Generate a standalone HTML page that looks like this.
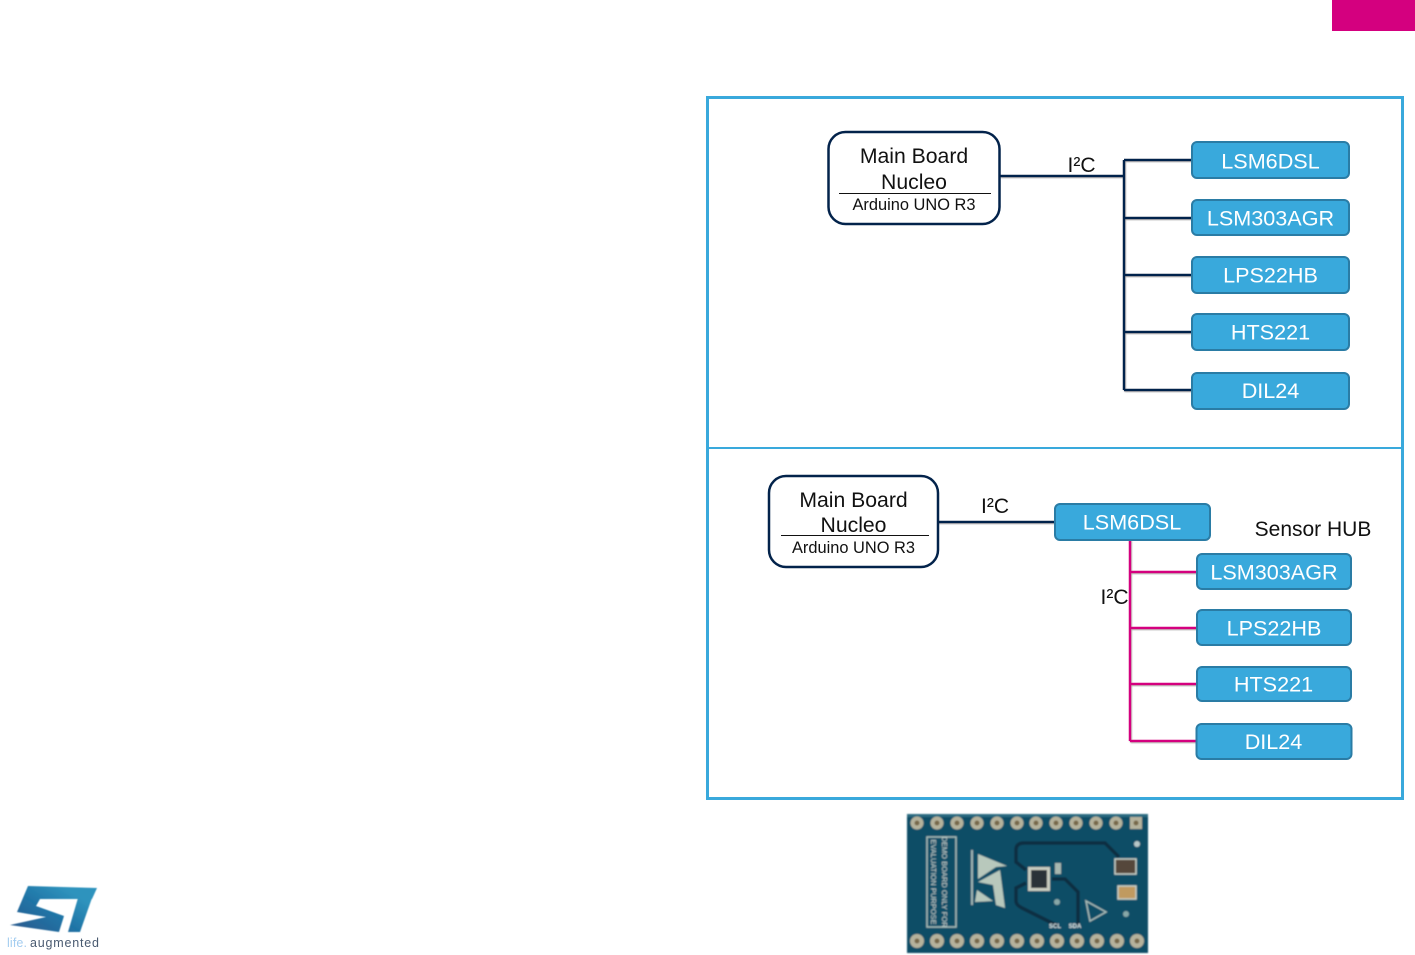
<!DOCTYPE html>
<html>
<head>
<meta charset="utf-8">
<style>
html,body{margin:0;padding:0;background:#fff;width:1415px;height:955px;overflow:hidden}
svg{display:block}
text{font-family:"Liberation Sans",sans-serif}
.b{fill:#39a9dc;stroke:#2a7ca5;stroke-width:2}
.w{fill:#fff;font-size:21.6px;text-anchor:middle}
.k{fill:#111;font-size:21.2px;text-anchor:middle}
.h{fill:#111;font-size:21px;text-anchor:middle}
.s{fill:#111;font-size:16.4px;text-anchor:middle}
.n{stroke:#03234b;stroke-width:2.5;fill:none}
.m{stroke:#d4007f;stroke-width:2.5;fill:none}
</style>
</head>
<body>
<svg width="1415" height="955" viewBox="0 0 1415 955" xmlns="http://www.w3.org/2000/svg">
<defs>
<filter id="bl" x="-5%" y="-5%" width="110%" height="110%"><feGaussianBlur stdDeviation="0.9"/></filter>
<filter id="bl2" x="-5%" y="-5%" width="110%" height="110%"><feGaussianBlur stdDeviation="0.6"/></filter>
<filter id="bl3" x="-5%" y="-20%" width="110%" height="140%"><feGaussianBlur stdDeviation="0.35"/></filter>
<filter id="sh" filterUnits="userSpaceOnUse" x="0" y="0" width="1415" height="955"><feDropShadow dx="0.8" dy="1" stdDeviation="0.6" flood-color="#777" flood-opacity="0.55"/></filter>
<linearGradient id="lg" gradientUnits="userSpaceOnUse" x1="60" y1="885" x2="30" y2="933"><stop offset="0" stop-color="#2f93bd"/><stop offset="0.5" stop-color="#1f74a6"/><stop offset="1" stop-color="#2a5f92"/></linearGradient>
</defs>
<rect x="1332" y="0" width="83" height="31" fill="#d4007f"/>
<rect x="707.5" y="97.5" width="695" height="701" fill="#fff" stroke="#39a9dc" stroke-width="3"/>
<line x1="708" y1="448" x2="1402" y2="448" stroke="#39a9dc" stroke-width="2"/>

<!-- Top diagram -->
<path class="n" filter="url(#sh)" d="M1000 176H1124M1124 160V390M1124 160H1193M1124 218H1193M1124 275H1193M1124 332H1193M1124 390H1193"/>
<rect x="828.5" y="132" width="171" height="92" rx="17" fill="#fff" stroke="#03234b" stroke-width="2.5"/>
<text class="k" x="914" y="163">Main Board</text>
<text class="k" x="914" y="189">Nucleo</text>
<line x1="839" y1="193.5" x2="991" y2="193.5" stroke="#111" stroke-width="1"/>
<text class="s" x="914" y="210">Arduino UNO R3</text>
<text class="h" x="1081.5" y="172">I²C</text>
<rect class="b" x="1192" y="142" width="157" height="36" rx="5"/><text class="w" x="1270.5" y="168.5">LSM6DSL</text>
<rect class="b" x="1192" y="200" width="157" height="35" rx="5"/><text class="w" x="1270.5" y="225.5">LSM303AGR</text>
<rect class="b" x="1192" y="257" width="157" height="36" rx="5"/><text class="w" x="1270.5" y="282.5">LPS22HB</text>
<rect class="b" x="1192" y="314" width="157" height="36" rx="5"/><text class="w" x="1270.5" y="339.5">HTS221</text>
<rect class="b" x="1192" y="373" width="157" height="36" rx="5"/><text class="w" x="1270.5" y="398">DIL24</text>

<!-- Bottom diagram -->
<path class="n" filter="url(#sh)" d="M938 522H1056"/>
<path class="m" filter="url(#sh)" d="M1130 540V741M1130 572H1198M1130 628H1198M1130 684H1198M1130 741H1198"/>
<rect x="769" y="476" width="169" height="91" rx="17" fill="#fff" stroke="#03234b" stroke-width="2.5"/>
<text class="k" x="853.5" y="507">Main Board</text>
<text class="k" x="853.5" y="532">Nucleo</text>
<line x1="781" y1="535.5" x2="929" y2="535.5" stroke="#111" stroke-width="1"/>
<text class="s" x="853.5" y="553">Arduino UNO R3</text>
<text class="h" x="995" y="513">I²C</text>
<text class="h" x="1114.5" y="604">I²C</text>
<text class="h" x="1313" y="536">Sensor HUB</text>
<rect class="b" x="1055" y="504" width="155" height="36" rx="5"/><text class="w" x="1132" y="529.5">LSM6DSL</text>
<rect class="b" x="1197" y="554" width="154" height="35" rx="5"/><text class="w" x="1274" y="579.5">LSM303AGR</text>
<rect class="b" x="1197" y="610" width="154" height="35" rx="5"/><text class="w" x="1274" y="635.5">LPS22HB</text>
<rect class="b" x="1197" y="667" width="154" height="34" rx="5"/><text class="w" x="1273.5" y="691.5">HTS221</text>
<rect class="b" x="1196.5" y="724" width="155" height="35" rx="5"/><text class="w" x="1273.5" y="749">DIL24</text>

<!-- Board photo -->
<g filter="url(#bl)">
<rect x="907" y="814" width="241" height="139" fill="#0f4e66"/>
<rect x="907" y="814" width="241" height="3" fill="#2c6b80"/>
<g fill="none" stroke="#a8bcb8" stroke-width="1.5">
<rect x="927" y="837" width="29" height="90"/>
<path d="M1086 901L1106 912L1090 921Z"/>
</g>
<g fill="none" stroke="#072f42" stroke-width="3.5">
<path d="M1026 870L1016 862V850Q1016 843 1024 843H1105L1119 857"/>
<path d="M1026 883L1016 888V901Q1016 905 1022 908L1058 926"/>
<path d="M1052 879H1065L1078 892V926"/>
</g>
<g fill="#b8c8bc">
<path d="M978 854L1007 866L996 867L978 879Z"/>
<path d="M1000 870L1005 908L996 905L993 885L978 882Z"/>
<path d="M977 890L993 901L975 902Z"/>
</g>
<rect x="971" y="850" width="2" height="55" fill="#9fb4b4"/>
<rect x="1028" y="867" width="22" height="24" fill="#c8ccc0"/>
<rect x="1031" y="870" width="16" height="18" fill="#2b3238"/>
<rect x="1115" y="859" width="21" height="15" fill="#54463a" stroke="#c8d0c8" stroke-width="1.5"/>
<rect x="1118" y="886" width="18" height="13" fill="#c09a60" stroke="#c8d0c8" stroke-width="1.5"/>
<rect x="1055" y="863" width="6" height="11" fill="#a8b8b0"/>
<circle cx="1057" cy="902" r="3" fill="#88a8a8"/><circle cx="1126" cy="914" r="3" fill="#88a8a8"/><circle cx="1137" cy="844" r="3" fill="#b8c8c8"/>
<g fill="#b5b29c">
<circle cx="917" cy="823" r="6.5"/><circle cx="937" cy="823" r="6.5"/><circle cx="957" cy="823" r="6.5"/><circle cx="977" cy="823" r="6.5"/><circle cx="997" cy="823" r="6.5"/><circle cx="1017" cy="823" r="6.5"/><circle cx="1036" cy="823" r="6.5"/><circle cx="1056" cy="823" r="6.5"/><circle cx="1076" cy="823" r="6.5"/><circle cx="1096" cy="823" r="6.5"/><circle cx="1116" cy="823" r="6.5"/>
<rect x="1130" y="817" width="12" height="12"/>
<circle cx="917" cy="941" r="7"/><circle cx="937" cy="941" r="7"/><circle cx="957" cy="941" r="7"/><circle cx="977" cy="941" r="7"/><circle cx="997" cy="941" r="7"/><circle cx="1017" cy="941" r="7"/><circle cx="1037" cy="941" r="7"/><circle cx="1057" cy="941" r="7"/><circle cx="1077" cy="941" r="7"/><circle cx="1097" cy="941" r="7"/><circle cx="1117" cy="941" r="7"/><circle cx="1137" cy="941" r="7"/>
</g>
<g fill="#77684a">
<circle cx="917" cy="823" r="2.5"/><circle cx="937" cy="823" r="2.5"/><circle cx="957" cy="823" r="2.5"/><circle cx="977" cy="823" r="2.5"/><circle cx="997" cy="823" r="2.5"/><circle cx="1017" cy="823" r="2.5"/><circle cx="1036" cy="823" r="2.5"/><circle cx="1056" cy="823" r="2.5"/><circle cx="1076" cy="823" r="2.5"/><circle cx="1096" cy="823" r="2.5"/><circle cx="1116" cy="823" r="2.5"/><circle cx="1136" cy="823" r="2.5"/>
<circle cx="917" cy="941" r="2.5"/><circle cx="937" cy="941" r="2.5"/><circle cx="957" cy="941" r="2.5"/><circle cx="977" cy="941" r="2.5"/><circle cx="997" cy="941" r="2.5"/><circle cx="1017" cy="941" r="2.5"/><circle cx="1037" cy="941" r="2.5"/><circle cx="1057" cy="941" r="2.5"/><circle cx="1077" cy="941" r="2.5"/><circle cx="1097" cy="941" r="2.5"/><circle cx="1117" cy="941" r="2.5"/><circle cx="1137" cy="941" r="2.5"/>
</g>
<text x="942" y="882" font-size="7.5" fill="#c8d4d0" text-anchor="middle" transform="rotate(90 942 882)">DEMO BOARD ONLY FOR</text>
<text x="931" y="882" font-size="7.5" fill="#c8d4d0" text-anchor="middle" transform="rotate(90 931 882)">EVALUATION PURPOSE</text>
<text x="1055" y="928" font-size="6" font-weight="bold" fill="#e0e8e8" text-anchor="middle">SCL</text>
<text x="1075" y="928" font-size="6" font-weight="bold" fill="#e0e8e8" text-anchor="middle">SDA</text>
</g>

<!-- Logo -->
<g filter="url(#bl2)">
<path d="M28 886L97 888L92 899L40 899L36 906L64 916L59 932L10 925L46 917L17 912Z" fill="url(#lg)"/>
<path d="M78 898L92 898L80 932L68 932Z" fill="url(#lg)"/>
</g>
<g filter="url(#bl3)">
<text x="7" y="947" font-size="12.5" fill="#a4cdf0" textLength="20">life.</text>
<text x="30" y="947" font-size="12.5" fill="#4a5a70" textLength="69">augmented</text>
</g>
</svg>
</body>
</html>
